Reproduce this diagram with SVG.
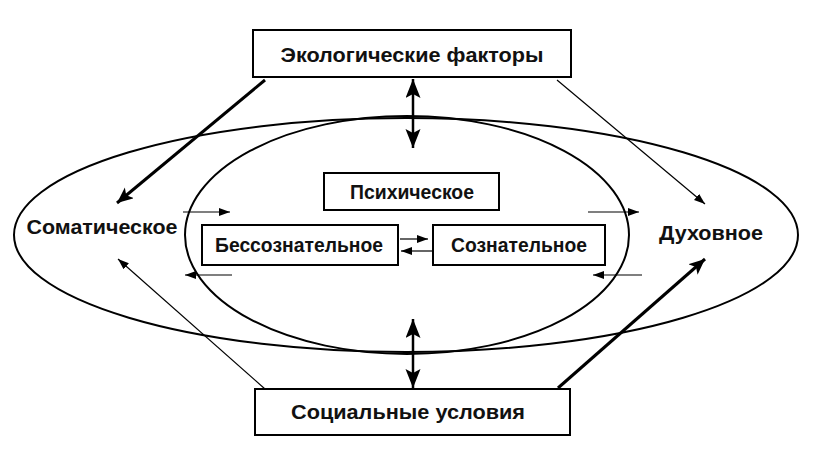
<svg xmlns="http://www.w3.org/2000/svg" width="826" height="456" viewBox="0 0 826 456">
<style>
.bx{fill:#fff;stroke:#000;stroke-width:2}
.el{fill:none;stroke:#000;stroke-width:2}
.t{font-family:"Liberation Sans",Arial,sans-serif;font-weight:bold;font-size:20.5px;fill:#111;text-anchor:middle}
.thick{stroke:#000;stroke-width:3;fill:none}
.thin{stroke:#000;stroke-width:1.2;fill:none}
.dbl{stroke:#000;stroke-width:2.5;fill:none}
</style>
<defs>
<marker id="hBig" markerUnits="userSpaceOnUse" markerWidth="20" markerHeight="16" refX="16" refY="7" orient="auto"><path d="M0,0 L16,7 L0,14 L4,7 z" fill="#000"/></marker>
<marker id="hSm" markerUnits="userSpaceOnUse" markerWidth="14" markerHeight="10" refX="11" refY="4" orient="auto"><path d="M0,0 L11,4 L0,8 z" fill="#000"/></marker>
<marker id="hDbl" markerUnits="userSpaceOnUse" markerWidth="22" markerHeight="18" refX="19" refY="7.5" orient="auto-start-reverse"><path d="M0,0 L19,7.5 L0,15 L4,7.5 z" fill="#000"/></marker>
</defs>
<g id="ellipses">
<ellipse class="el" cx="406" cy="235" rx="392" ry="117"/>
<ellipse class="el" cx="407" cy="235" rx="222" ry="119"/>
</g>
<g id="connectors">
<line class="thick" x1="265" y1="80" x2="117" y2="203" marker-end="url(#hBig)"/>
<line class="thin" x1="557" y1="80" x2="705" y2="204" marker-end="url(#hSm)"/>
<line class="thin" x1="265" y1="389" x2="118" y2="259" marker-end="url(#hSm)"/>
<line class="thick" x1="558" y1="388" x2="705" y2="259" marker-end="url(#hBig)"/>
<line class="dbl" x1="413" y1="79" x2="413" y2="148" marker-start="url(#hDbl)" marker-end="url(#hDbl)"/>
<line class="dbl" x1="413" y1="319" x2="413" y2="388" marker-start="url(#hDbl)" marker-end="url(#hDbl)"/>
<line class="thin" x1="183" y1="212" x2="230" y2="212" marker-end="url(#hSm)"/>
<line class="thin" x1="232" y1="275" x2="185" y2="275" marker-end="url(#hSm)"/>
<line class="thin" x1="588" y1="212" x2="639" y2="212" marker-end="url(#hSm)"/>
<line class="thin" x1="642" y1="275" x2="593" y2="275" marker-end="url(#hSm)"/>
<line class="thin" x1="400" y1="239" x2="428" y2="239" marker-end="url(#hSm)"/>
<line class="thin" x1="432" y1="251" x2="401" y2="251" marker-end="url(#hSm)"/>
</g>
<g id="ecology">
<rect class="bx" x="253" y="30" width="318" height="47"/>
<text class="t" x="412" y="62" textLength="263" lengthAdjust="spacingAndGlyphs">Экологические факторы</text>
</g>
<g id="social">
<rect class="bx" x="255" y="389" width="315" height="46"/>
<text class="t" x="408" y="419" textLength="234" lengthAdjust="spacingAndGlyphs">Социальные условия</text>
</g>
<g id="somatic">
<text class="t" x="102" y="234" textLength="151" lengthAdjust="spacingAndGlyphs">Соматическое</text>
</g>
<g id="spiritual">
<text class="t" x="711" y="240" textLength="104" lengthAdjust="spacingAndGlyphs">Духовное</text>
</g>
<g id="psychic">
<rect class="bx" x="324" y="173" width="175" height="37"/>
<text class="t" x="412" y="199" textLength="124" lengthAdjust="spacingAndGlyphs">Психическое</text>
</g>
<g id="unconscious">
<rect class="bx" x="202" y="225" width="196" height="40"/>
<text class="t" x="299" y="252" textLength="168" lengthAdjust="spacingAndGlyphs">Бессознательное</text>
</g>
<g id="conscious">
<rect class="bx" x="433" y="225" width="172" height="40"/>
<text class="t" x="519" y="252" textLength="136" lengthAdjust="spacingAndGlyphs">Сознательное</text>
</g>
</svg>
